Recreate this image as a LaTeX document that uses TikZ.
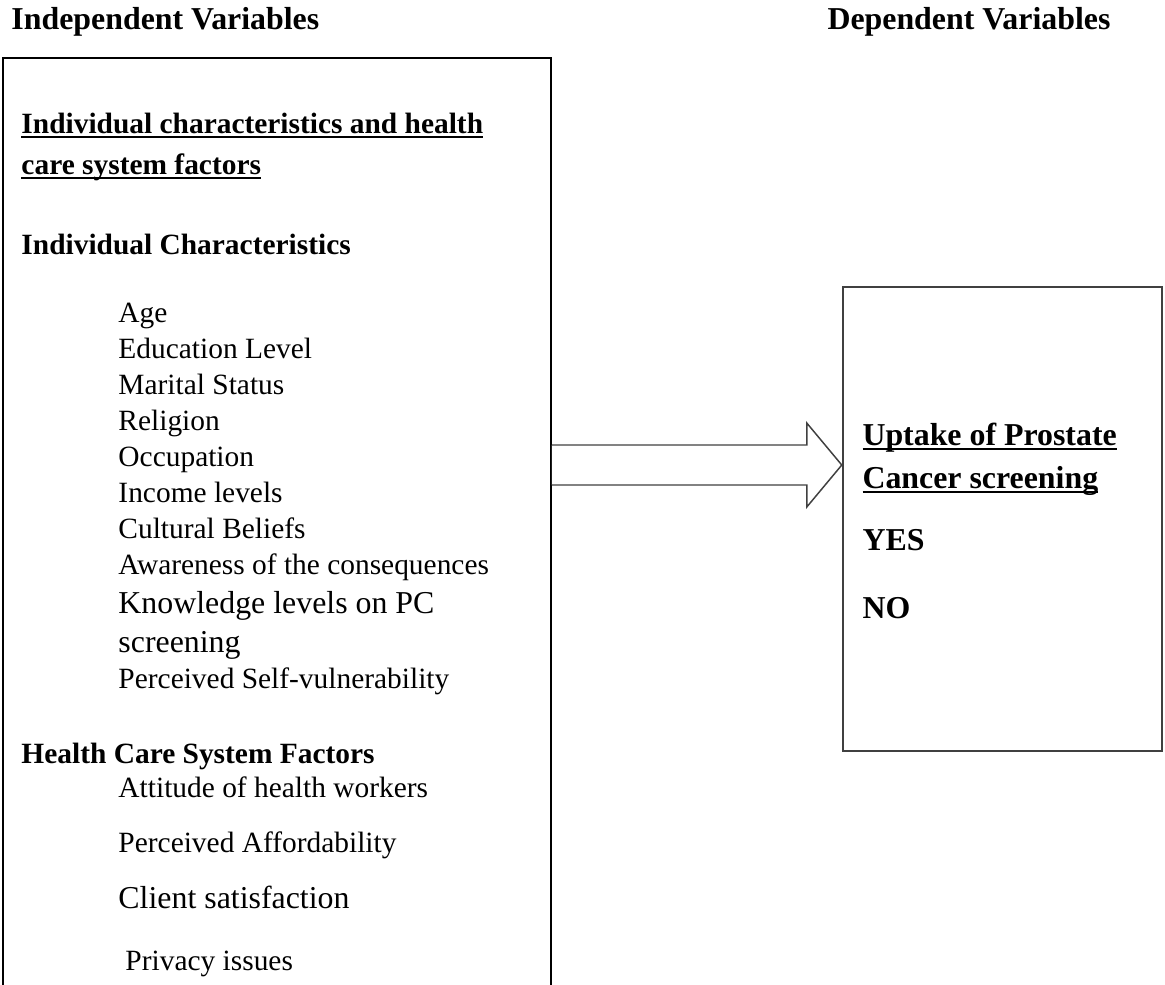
\documentclass[tikz,border=0pt]{standalone}
\usepackage{fontspec}
\setmainfont{Liberation Serif}
\usepackage{tikz}
\usetikzlibrary{calc,fit}
\definecolor{arrowgray}{HTML}{404040}
\newcommand{\ulin}[1]{\setbox0\hbox{#1}\rlap{\rule[-2pt]{\wd0}{0.8pt}}\box0}

\begin{document}
\begin{tikzpicture}[x=0.408pt,y=-0.408pt]
\tikzstyle{lbl}=[anchor=base west,inner sep=0pt,font=\fontsize{12}{14}\selectfont]
\tikzstyle{bigtxt}=[lbl,font=\fontsize{13}{15}\selectfont]
\tikzstyle{hd}=[lbl,font=\fontsize{12}{14}\selectfont\bfseries]
\tikzstyle{bighd}=[lbl,font=\fontsize{13}{15}\selectfont\bfseries]
\tikzstyle{boxframe}=[draw,line width=0.8pt,inner sep=0pt]
\useasboundingbox (0,0) rectangle (1165,984);
\clip (0,0) rectangle (1165,984);
% column titles
\node[bighd] (indeptitle) at (11,29) {Independent Variables};
\node[bighd] (deptitle) at (827,29) {Dependent Variables};
% the two boxes (left one runs off the page)
\node[boxframe, fit={(3,58) (551,1000)}] (indep) {};
\node[boxframe, draw=arrowgray, line width=1pt, fit={(843,287) (1162,751)}] (dep) {};
% left box text
\node[hd] (factors) at (21,133) {\ulin{Individual characteristics and health}};
\node[hd] (factors2) at (21,174) {\ulin{care system factors}};
\node[hd] (indchar) at (21,254) {Individual Characteristics};
\node[lbl] (age) at (118,322) {Age};
\node[lbl] (edu) at (118,358) {Education Level};
\node[lbl] (marital) at (118,394) {Marital Status};
\node[lbl] (religion) at (118,430) {Religion};
\node[lbl] (occ) at (118,466) {Occupation};
\node[lbl] (income) at (118,502) {Income levels};
\node[lbl] (culture) at (118,538) {Cultural Beliefs};
\node[lbl] (aware) at (118,574) {Awareness of the consequences};
\node[bigtxt] (know) at (118,613) {Knowledge levels on PC};
\node[bigtxt] (know2) at (118,652) {screening};
\node[lbl] (vuln) at (118,688) {Perceived Self-vulnerability};
\node[hd] (hcsf) at (21,763) {Health Care System Factors};
\node[lbl] (attitude) at (118,797) {Attitude of health workers};
\node[lbl] (afford) at (118,852) {Perceived Affordability};
\node[bigtxt] (client) at (118,908) {Client satisfaction};
\node[lbl] (privacy) at (125,970) {Privacy issues};
% right box text
\node[bighd] (uptake) at (862,445) {\ulin{Uptake of Prostate}};
\node[bighd] (uptake2) at (862,488) {\ulin{Cancer screening}};
\node[bighd] (yes) at (862,550) {YES};
\node[bighd] (no) at (862,618) {NO};
% block arrow
\path (indep.east |- 0,465) coordinate (atail) (dep.west |- 0,465) coordinate (ahead);
\draw[arrowgray,line width=0.6pt,fill=white]
  ($(atail)+(0,-20)$) -- ($(ahead)+(-35,-20)$) -- ($(ahead)+(-35,-42)$) -- (ahead)
  -- ($(ahead)+(-35,42)$) -- ($(ahead)+(-35,20)$) -- ($(atail)+(0,20)$);
\end{tikzpicture}
\end{document}
